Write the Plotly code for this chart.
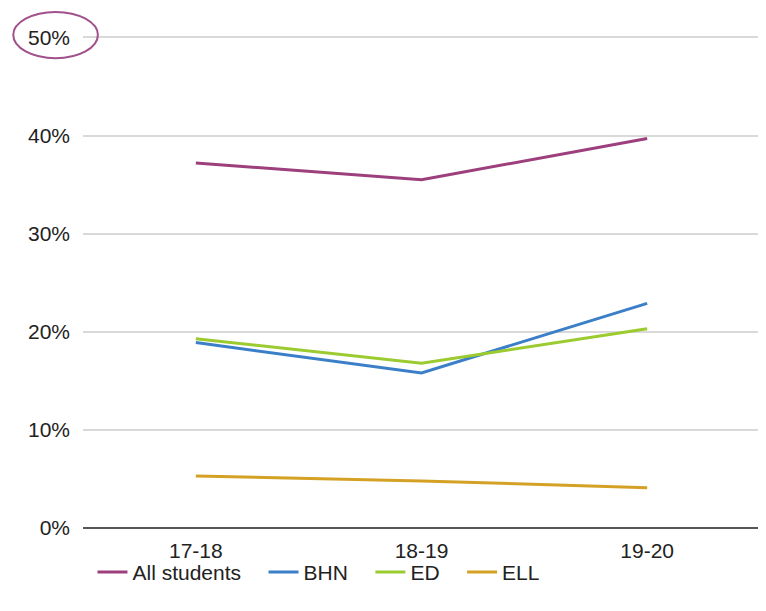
import plotly.graph_objects as go

years = ["17-18", "18-19", "19-20"]
all_students = [37.2, 35.5, 39.7]
bhn = [18.9, 15.8, 22.9]
ed = [19.3, 16.8, 20.3]
ell = [5.3, 4.8, 4.1]

series = [
    ("All students", all_students, "#9C3F7C"),
    ("BHN", bhn, "#3B7FC8"),
    ("ED", ed, "#9CCB30"),
    ("ELL", ell, "#D4A125"),
]

pad = "\u00a0\u00a0\u00a0"
fig = go.Figure()
for name, vals, col in series:
    fig.add_trace(go.Scatter(x=years, y=vals, name=name + pad, mode="lines",
                             line=dict(color=col, width=3)))

fig.update_layout(
    width=758, height=603,
    margin=dict(l=75, r=6, t=28, b=83, autoexpand=False),
    paper_bgcolor="white", plot_bgcolor="white",
    font=dict(family="Liberation Sans, Arial, sans-serif", size=21, color="#222"),
    showlegend=True,
    legend=dict(orientation="h", x=0.014, xanchor="left", y=-0.09, yanchor="middle",
                font=dict(size=21), traceorder="normal", itemwidth=30,
                bgcolor="rgba(0,0,0,0)"),
    xaxis=dict(type="category", range=[-0.5, 2.5], showgrid=False, ticks="",
               ticklabelstandoff=8, automargin=False),
    yaxis=dict(range=[0, 50.15], tickvals=[0, 10, 20, 30, 40, 50],
               ticktext=["0%", "10%", "20%", "30%", "40%", "50%"],
               showgrid=True, gridcolor="#d9d9d9", gridwidth=1.5,
               zeroline=True, zerolinecolor="#555", zerolinewidth=2,
               ticks="", ticklabelstandoff=12, automargin=False),
    shapes=[dict(type="circle", xref="paper", yref="paper",
                 x0=-0.103, x1=0.022, y0=0.955, y1=1.049,
                 line=dict(color="#A0508A", width=2))],
)

fig.write_html("out.html")
